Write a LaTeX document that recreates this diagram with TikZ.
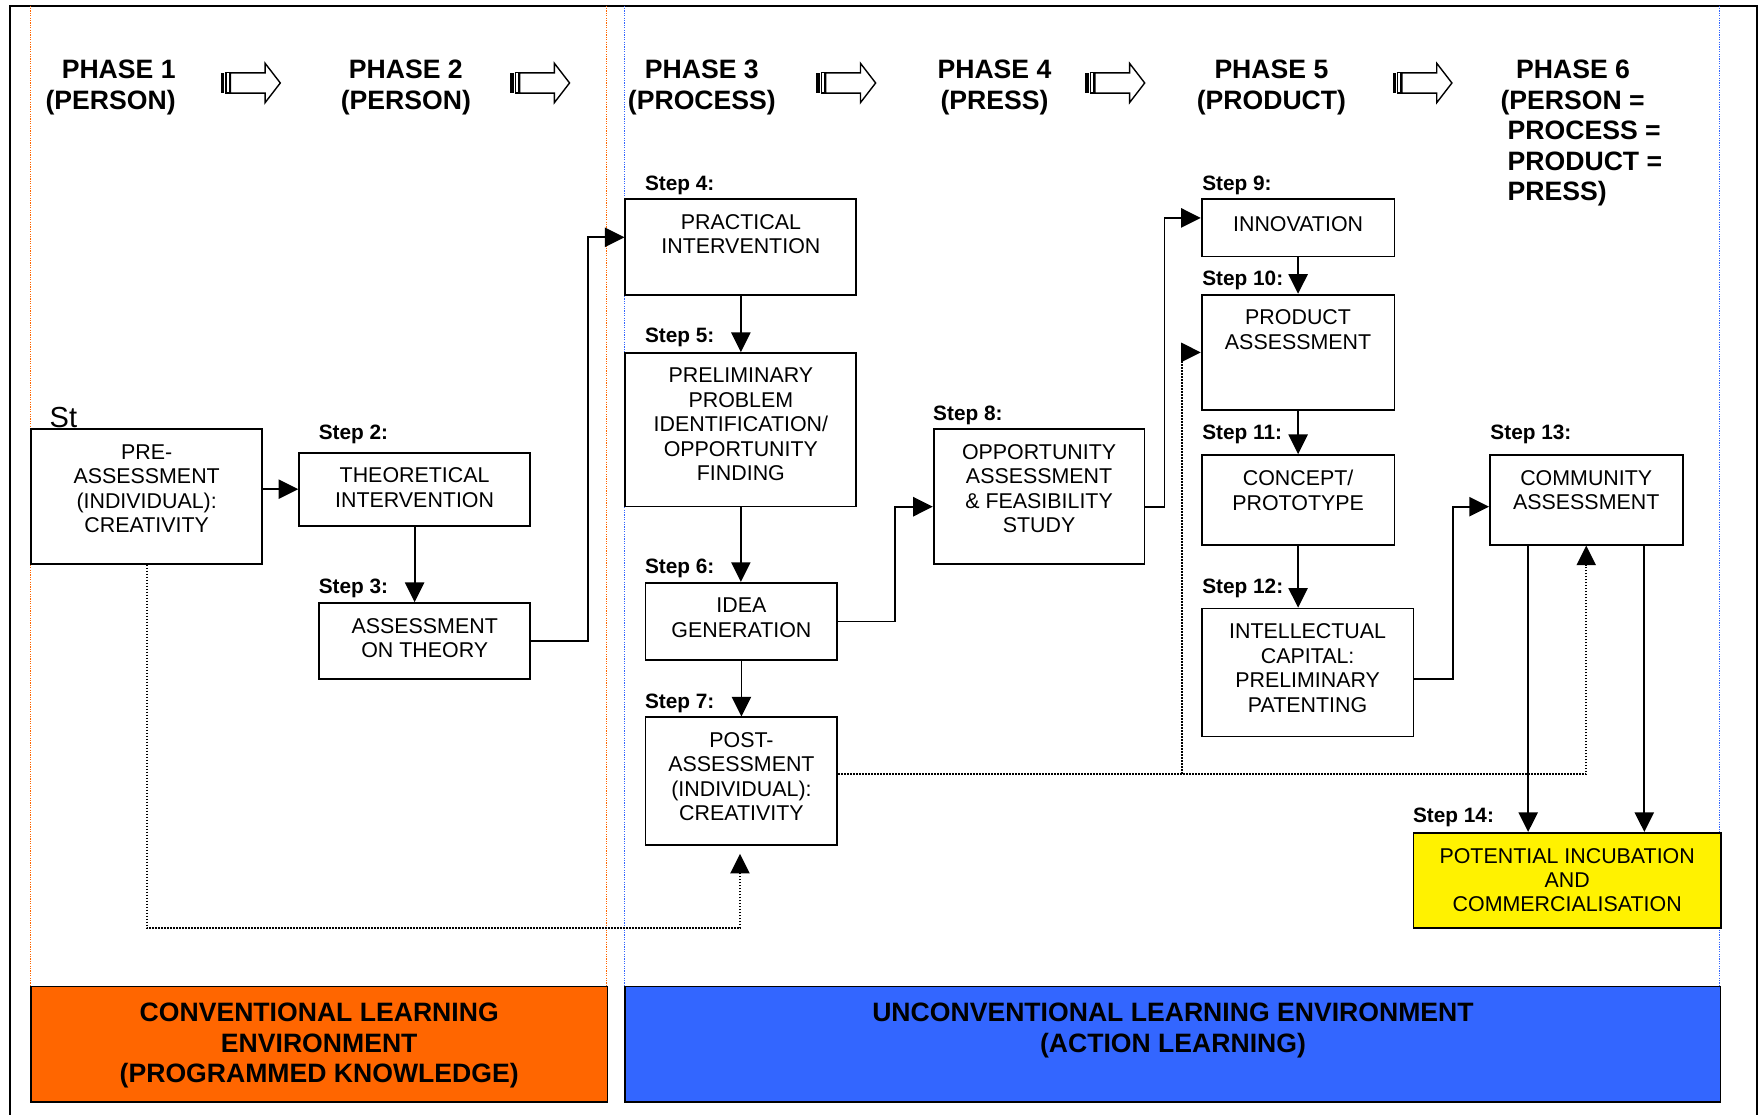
\documentclass[tikz,border=0pt]{standalone}
\usepackage{fontspec}
\setmainfont{Liberation Sans}
\usetikzlibrary{calc,arrows.meta}

\definecolor{envorange}{HTML}{FF6600}
\definecolor{envblue}{HTML}{3366FF}
\newcommand\unitpx{0.5606pt}
\newcommand\boxfont{\fontsize{10.7}{12.2}\selectfont}
\newcommand\stepfont{\bfseries\fontsize{10.4}{12.5}\selectfont}
\newcommand\phasefont{\bfseries\fontsize{13.3}{15.2}\selectfont}

\tikzset{
  stepbox/.style 2 args={draw, line width=0.9pt, anchor=north west, inner sep=0pt,
    minimum width=#1*\unitpx, minimum height=#2*\unitpx},
  boxtext/.style={anchor=north, align=center, inner sep=0pt, yshift=-7.9pt,
    font=\boxfont, execute at begin node=\strut},
  steplabel/.style={anchor=base west, inner sep=0pt, font=\stepfont},
  phase/.style={anchor=north, align=center, inner sep=0pt, font=\phasefont,
    execute at begin node=\strut},
  envbox/.style 2 args={draw, line width=0.8pt, anchor=north west, inner sep=0pt,
    minimum width=#1*\unitpx, minimum height=#2*\unitpx},
  envtext/.style={anchor=north, align=center, inner sep=0pt, yshift=-8.7pt,
    font=\phasefont, execute at begin node=\strut},
  flow/.style={line width=0.9pt, -{Triangle[length=9.8pt,width=9.6pt]}},
  dotflow/.style={flow, dash pattern=on 0.8pt off 0.7pt},
  guide/.style={line width=0.6pt, dash pattern=on 0.6pt off 0.6pt},
}

\begin{document}
\begin{tikzpicture}[x=0.5606pt, y=-0.5606pt]
            \useasboundingbox (0,0) rectangle (1568,994);
            \draw[line width=1pt] (9,1000) -- (9,5) -- (1567,5) -- (1567,1000);

            \draw[guide, envorange] (27,5) -- (27,879);
            \draw[guide, envorange] (541,5) -- (541,879);
            \draw[guide, envblue] (557,5) -- (557,879);
            \draw[guide, envblue] (1534,5) -- (1534,879);

            \node[phase, anchor=north east, align=right] (p1) at (157,53.5) {PHASE 1\\(PERSON)};
            \node[phase] (p2) at (362,53.5) {PHASE 2\\(PERSON)};
            \node[phase] (p3) at (626,53.5) {PHASE 3\\(PROCESS)};
            \node[phase] (p4) at (887,53.5) {PHASE 4\\(PRESS)};
            \node[phase] (p5) at (1134,53.5) {PHASE 5\\(PRODUCT)};
            \node[phase, anchor=north west, align=left] (p6) at (1338,53.5)
              {\hspace{7.8pt}PHASE 6\\(PERSON =\\\hspace{3.6pt}PROCESS =\\\hspace{3.6pt}PRODUCT =\\\hspace{3.6pt}PRESS)};

            \foreach \ax in {197,455,728,968,1242}{
              \fill (\ax,65) rectangle ++(3,18);
              \draw[line width=0.6pt] ({\ax+4.5},65) rectangle ++(3,18);
              \draw[line width=0.7pt] ({\ax+8.5},65) -- ({\ax+39.5},65) -- ({\ax+39.5},56.5)
                -- ({\ax+53},74) -- ({\ax+39.5},91.5) -- ({\ax+39.5},83) -- ({\ax+8.5},83) -- cycle;
            }

            \node[anchor=base west, inner sep=0pt, font=\fontsize{14.5}{16}\selectfont] (st) at (44,381) {St};
            \node[stepbox={206}{120}, label={[boxtext]north:{PRE-\\ASSESSMENT\\(INDIVIDUAL):\\CREATIVITY}}] (s1) at (27,382) {};

            \node[steplabel] (l2) at (284,391.6) {Step 2:};
            \node[stepbox={206}{65}, label={[boxtext]north:{THEORETICAL\\INTERVENTION}}] (s2) at (266,403) {};
            \node[steplabel] (l3) at (284,529.6) {Step 3:};
            \node[stepbox={188}{68}, label={[boxtext]north:{ASSESSMENT\\ON THEORY}}] (s3) at (284,537) {};

            \node[steplabel] (l4) at (575,169.6) {Step 4:};
            \node[stepbox={206}{85}, label={[boxtext]north:{PRACTICAL\\INTERVENTION}}] (s4) at (557,177) {};
            \node[steplabel] (l5) at (575,305.6) {Step 5:};
            \node[stepbox={206}{137}, label={[boxtext]north:{PRELIMINARY\\PROBLEM\\IDENTIFICATION/\\OPPORTUNITY\\FINDING}}] (s5) at (557,314) {};
            \node[steplabel] (l6) at (575,511.6) {Step 6:};
            \node[stepbox={171}{69}, label={[boxtext]north:{IDEA\\GENERATION}}] (s6) at (575,519) {};
            \node[steplabel] (l7) at (575,631.6) {Step 7:};
            \node[stepbox={171}{114}, label={[boxtext]north:{POST-\\ASSESSMENT\\(INDIVIDUAL):\\CREATIVITY}}] (s7) at (575,639) {};

            \node[steplabel] (l8) at (832,374.6) {Step 8:};
            \node[stepbox={188}{120}, label={[boxtext]north:{OPPORTUNITY\\ASSESSMENT\\\& FEASIBILITY\\STUDY}}] (s8) at (832,382) {};

            \node[steplabel] (l9) at (1072,169.6) {Step 9:};
            \node[stepbox={172}{51}, label={[boxtext]north:{INNOVATION}}] (s9) at (1071,177) {};
            \node[steplabel] (l10) at (1072,254.6) {Step 10:};
            \node[stepbox={172}{103}, label={[boxtext]north:{PRODUCT\\ASSESSMENT}}] (s10) at (1071,262) {};
            \node[steplabel] (l11) at (1072,391.6) {Step 11:};
            \node[stepbox={172}{80}, label={[boxtext]north:{CONCEPT/\\PROTOTYPE}}] (s11) at (1071,405) {};
            \node[steplabel] (l12) at (1072,529.6) {Step 12:};
            \node[stepbox={189}{114}, label={[boxtext]north:{INTELLECTUAL\\CAPITAL:\\PRELIMINARY\\PATENTING}}] (s12) at (1071,542) {};

            \node[steplabel] (l13) at (1329,391.6) {Step 13:};
            \node[stepbox={172}{80}, label={[boxtext]north:{COMMUNITY\\ASSESSMENT}}] (s13) at (1328,405) {};
            \node[steplabel] (l14) at (1260,733.6) {Step 14:};
            \node[stepbox={274}{85}, fill=yellow, label={[boxtext]north:{POTENTIAL INCUBATION\\AND\\COMMERCIALISATION}}] (s14) at (1260,742) {};

            \draw[flow] (s1.east |- s2.west) -- (s2.west);
            \draw[flow] (s2.south) -- (s2.south |- s3.north);
            \draw[flow] (s3.east) -- ++(51,0) |- ($(s4.north west)!0.4!(s4.south west)$);
            \draw[flow] (s4.south) -- (s5.north);
            \draw[flow] (s5.south) -- (s5.south |- s6.north);
            \draw[flow] (s6.south) -- (s7.north);
            \draw[flow] (s6.east) -- ++(51,0) |- ($(s8.north west)!0.575!(s8.south west)$);
            \draw[flow] ($(s8.north east)!0.575!(s8.south east)$) -- ++(17,0) |- ($(s9.north west)!0.33!(s9.south west)$);
            \draw[flow] (s9.south) -- (s10.north);
            \draw[flow] (s10.south) -- (s11.north);
            \draw[flow] (s11.south) -- (s11.south |- s12.north);
            \draw[flow] ($(s12.north east)!0.55!(s12.south east)$) -- ++(34,0) |- ($(s13.north west)!0.575!(s13.south west)$);
            \coordinate (d1) at ($(s13.south west)+(35,0)$);
            \coordinate (d2) at ($(s13.south east)+(-35,0)$);
            \draw[flow] (d1) -- (d1 |- s14.north);
            \draw[flow] (d2) -- (d2 |- s14.north);

            \coordinate (lowdot) at (660,828);
            \coordinate (branch) at (1054,690);
            \draw[dotflow, shorten >=3.9pt] (s1.south) |- (lowdot) -- (lowdot |- s7.south);
            \draw[dotflow] ($(s7.north east)!0.447!(s7.south east)$) -| (s13.south);
            \draw[dotflow] (branch) |- (s10.west);

            \node[envbox={514}{103}, fill=envorange, label={[envtext]north:{CONVENTIONAL LEARNING\\ENVIRONMENT\\(PROGRAMMED KNOWLEDGE)}}] (env1) at (27,879) {};
            \node[envbox={977}{103}, fill=envblue, label={[envtext]north:{UNCONVENTIONAL LEARNING ENVIRONMENT\\(ACTION LEARNING)}}] (env2) at (557,879) {};
\end{tikzpicture}
\end{document}
